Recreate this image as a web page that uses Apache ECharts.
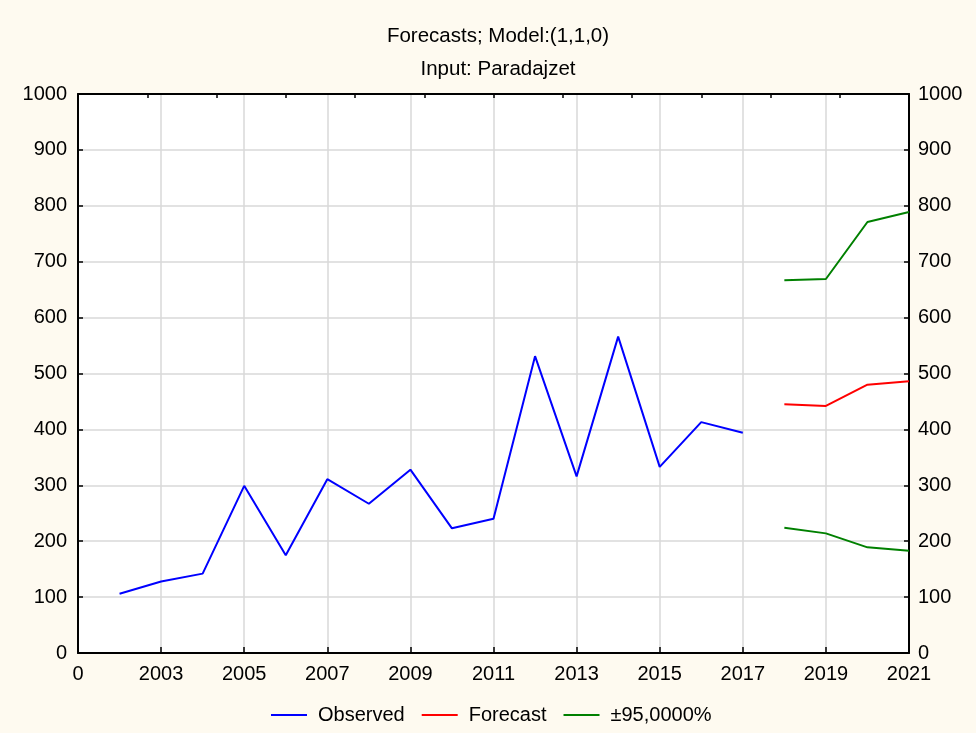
<!DOCTYPE html>
<html>
<head>
<meta charset="utf-8">
<title>Forecasts; Model:(1,1,0)</title>
<script src="https://cdn.jsdelivr.net/npm/echarts@6/dist/echarts.min.js"></script>
<style>
	html, body { margin: 0; padding: 0; background: #fefaf0; }
	#chart { width: 976px; height: 733px; }
</style>
</head>
<body>
<div id="chart"></div>
<script>
	// year values, the axis starts one year before the first observation
	var startYear = 2001;
	var endYear = 2021;

	var observedYears = [2002, 2003, 2004, 2005, 2006, 2007, 2008, 2009, 2010, 2011, 2012, 2013, 2014, 2015, 2016, 2017];
	var observed = [106, 128, 142, 299, 175, 311, 267, 328, 223, 240, 531, 316, 566, 333, 413, 394];

	var forecastYears = [2018, 2019, 2020, 2021];
	var forecast = [445, 442, 480, 486];
	var upper95 = [667, 669, 771, 789];
	var lower95 = [224, 214, 189, 183];

	var yMin = 0, yMax = 1000, yStep = 100;
	var xStep = 2;

	var font = "'Liberation Sans', Arial, sans-serif";

	function pairs(years, values) {
		return years.map(function(y, i) {
			return [y - startYear, values[i]];
		});
	}

	function yearLabel(v) {
		return v === 0 ? '0' : String(startYear + v);
	}

	function plain(v) {
		return String(v);
	}

	var axisLine = { show: true, onZero: false, lineStyle: { color: '#000', width: 2 } };
	var gridLine = { show: true, lineStyle: { color: '#d9d9d9', width: 1.5 } };
	var label = { color: '#000', fontFamily: font, fontSize: 20 };

	var myChart = echarts.init(document.getElementById('chart'));
	var option = {
		animation: false,
		backgroundColor: '#fefaf0',
		textStyle: { fontFamily: font },
		title: {
			text: 'Forecasts; Model:(1,1,0)\nInput: Paradajzet',
			left: 493,
			top: 15,
			textAlign: 'center',
			textStyle: { color: '#000', fontFamily: font, fontSize: 20.5, fontWeight: 'normal', lineHeight: 33 }
		},
		legend: {
			left: 271,
			top: 705,
			padding: 0,
			itemWidth: 36,
			itemHeight: 2,
			itemGap: 17,
			icon: 'rect',
			textStyle: { color: '#000', fontFamily: font, fontSize: 20, padding: [0, 0, 0, 6] },
			data: ['Observed', 'Forecast', '±95,0000%']
		},
		grid: {
			left: 78,
			right: 67,
			top: 94,
			bottom: 80,
			show: true,
			backgroundColor: '#fff',
			borderWidth: 0
		},
		xAxis: [{
			type: 'value',
			position: 'bottom',
			min: 0,
			max: endYear - startYear,
			interval: xStep,
			axisLine: axisLine,
			axisTick: { inside: true, length: 6, lineStyle: { color: '#000', width: 1.5 } },
			axisLabel: Object.assign({ margin: 11, formatter: yearLabel }, label),
			splitLine: gridLine
		}, {
			type: 'value',
			position: 'top',
			min: 0,
			max: 12,
			interval: 1,
			axisLine: axisLine,
			axisTick: { inside: true, length: 4, lineStyle: { color: '#000', width: 1.5 } },
			axisLabel: { show: false },
			splitLine: { show: false }
		}],
		yAxis: [{
			type: 'value',
			position: 'left',
			min: yMin,
			max: yMax,
			interval: yStep,
			axisLine: axisLine,
			axisTick: { inside: true, length: 5, lineStyle: { color: '#000', width: 1.5 } },
			axisLabel: Object.assign({ margin: 11, formatter: plain }, label),
			splitLine: gridLine
		}, {
			type: 'value',
			position: 'right',
			min: yMin,
			max: yMax,
			interval: yStep,
			axisLine: axisLine,
			axisTick: { inside: true, length: 5, lineStyle: { color: '#000', width: 1.5 } },
			axisLabel: Object.assign({ margin: 9, formatter: plain }, label),
			splitLine: { show: false }
		}],
		series: [{
			name: 'Observed',
			type: 'line',
			showSymbol: false,
			itemStyle: { color: '#0000ff' },
			lineStyle: { color: '#0000ff', width: 2 },
			data: pairs(observedYears, observed)
		}, {
			name: 'Forecast',
			type: 'line',
			showSymbol: false,
			itemStyle: { color: '#ff0000' },
			lineStyle: { color: '#ff0000', width: 2 },
			data: pairs(forecastYears, forecast)
		}, {
			name: '±95,0000%',
			type: 'line',
			showSymbol: false,
			itemStyle: { color: '#008000' },
			lineStyle: { color: '#008000', width: 2 },
			data: pairs(forecastYears, upper95)
		}, {
			name: '±95,0000%',
			type: 'line',
			showSymbol: false,
			itemStyle: { color: '#008000' },
			lineStyle: { color: '#008000', width: 2 },
			data: pairs(forecastYears, lower95)
		}]
	};
	myChart.setOption(option);
</script>
</body>
</html>
